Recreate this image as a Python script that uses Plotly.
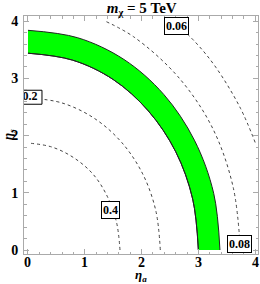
import plotly.graph_objects as go

# ---- data ----
# contour lines (eta_a, eta_s)
c040_x = [1.62, 1.56, 1.40, 1.15, 0.81, 0.42, 0.0]
c040_y = [0.0, 0.48, 0.93, 1.32, 1.61, 1.80, 1.87]
c020_x = [2.33, 2.25, 2.02, 1.65, 1.17, 0.60, 0.0]
c020_y = [0.0, 0.69, 1.33, 1.88, 2.30, 2.57, 2.66]
c008_x = [3.74, 3.61, 3.24, 2.64, 1.87, 1.36]
c008_y = [0.0, 1.11, 2.15, 3.03, 3.72, 4.0]
c006_x = [4.0, 3.74, 3.31, 2.95, 2.56]
c006_y = [1.88, 2.48, 3.19, 3.63, 4.0]

# green allowed band: outer and inner edges
band_out_x = [3.38, 3.27, 2.93, 2.39, 1.69, 0.875, 0.0]
band_out_y = [0.0, 0.99, 1.92, 2.72, 3.33, 3.71, 3.84]
band_in_x = [3.00, 2.90, 2.60, 2.12, 1.50, 0.78, 0.0]
band_in_y = [0.0, 0.89, 1.72, 2.43, 2.98, 3.32, 3.44]

# contour labels
label_text = ["0.06", "0.4", "0.08"]
label_x = [2.62, 1.46, 3.72]
label_y = [3.92, 0.70, 0.10]
edge_label_text = "0.2"
edge_label_x = 0.0
edge_label_y = 2.67

tick_vals = [0, 1, 2, 3, 4]
tick_text = ["0", "1", "2", "3", "4"]

serif = "Liberation Serif, Times New Roman, serif"
dash_style = dict(color="#444444", width=1, dash="3px,3px")

fig = go.Figure()

# band: inner edge, then outer edge filled to the inner one
fig.add_trace(go.Scatter(x=band_in_x, y=band_in_y, mode="lines",
                         line=dict(color="#222222", width=1, shape="spline"),
                         hoverinfo="skip", showlegend=False))
fig.add_trace(go.Scatter(x=band_out_x, y=band_out_y, mode="lines",
                         fill="tonexty", fillcolor="#00ff00",
                         line=dict(color="#222222", width=1, shape="spline"),
                         hoverinfo="skip", showlegend=False))
fig.add_trace(go.Scatter(x=band_in_x, y=band_in_y, mode="lines",
                         line=dict(color="#222222", width=1, shape="spline"),
                         hoverinfo="skip", showlegend=False))
# dashed contours
for cx, cy in [(c040_x, c040_y), (c020_x, c020_y), (c008_x, c008_y), (c006_x, c006_y)]:
    fig.add_trace(go.Scatter(x=cx, y=cy, mode="lines",
                             line=dict(shape="spline", **dash_style),
                             hoverinfo="skip", showlegend=False))

# edge label (clipped by frame) : box + text as traces
px_x = 4.12 / 234
px_y = 4.16 / 238
bx0 = edge_label_x - 14 * px_x
bx1 = edge_label_x + 14 * px_x
by0 = edge_label_y - 7 * px_y
by1 = edge_label_y + 7 * px_y
fig.add_trace(go.Scatter(x=[bx0, bx1, bx1, bx0, bx0], y=[by0, by0, by1, by1, by0],
                         mode="lines", fill="toself", fillcolor="white",
                         line=dict(color="black", width=1),
                         hoverinfo="skip", showlegend=False))
fig.add_trace(go.Scatter(x=[edge_label_x + 2 * px_x], y=[edge_label_y], mode="text",
                         text=[edge_label_text], cliponaxis=True,
                         textfont=dict(family=serif, size=12, color="black", weight="bold"),
                         hoverinfo="skip", showlegend=False))

for t, lx, ly in zip(label_text, label_x, label_y):
    fig.add_annotation(x=lx, y=ly, xref="x", yref="y", text="<b>%s</b>" % t,
                       showarrow=False, bgcolor="white", bordercolor="black",
                       borderwidth=1, borderpad=1,
                       font=dict(family=serif, size=12, color="black"))

axis_common = dict(
    showgrid=False, zeroline=False, showline=True, linecolor="#aaaaaa", linewidth=1,
    mirror="allticks", ticks="inside", ticklen=5, tickcolor="#aaaaaa", tickwidth=1,
    tickvals=tick_vals,
    minor=dict(ticks="inside", ticklen=2.5, tickcolor="#aaaaaa", dtick=0.2, tick0=0, showgrid=False),
)
fig.update_xaxes(range=[-0.07, 4.05], showticklabels=False, **axis_common)
fig.update_yaxes(range=[-0.07, 4.09], ticklabelstandoff=2,
                 ticktext=["<b>%s</b>" % t for t in tick_text],
                 tickfont=dict(family=serif, size=14, color="black"), **axis_common)

# x tick labels placed just under the frame
for v, t in zip(tick_vals, tick_text):
    fig.add_annotation(x=v, xref="x", yref="paper", y=-(262 - 254) / 238, yanchor="middle",
                       text="<b>%s</b>" % t, showarrow=False,
                       font=dict(family=serif, size=14, color="black"))

fig.add_annotation(xref="paper", yref="paper", x=0.5, y=-(275 - 254) / 238, yanchor="middle",
                   text="<b><i>η</i><sub><i>a</i></sub></b>", showarrow=False,
                   font=dict(family=serif, size=13, color="black"))
fig.add_annotation(xref="paper", yref="paper", x=-16 / 234, y=0.5, xanchor="center",
                   textangle=-90, text="<b><i>η</i><sub><i>s</i></sub></b>", showarrow=False,
                   font=dict(family=serif, size=13, color="black"))

fig.update_layout(
    width=260, height=284,
    margin=dict(l=24, r=2, t=16, b=30),
    paper_bgcolor="white", plot_bgcolor="white",
    title=dict(text="<b><i>m</i><sub>χ</sub> = 5 TeV</b>", x=0.545, xanchor="center",
               y=1 - 8 / 284, yanchor="middle", yref="container",
               font=dict(family=serif, size=15, color="black")),
    showlegend=False,
)

fig.write_html("out.html", config={"displayModeBar": False},
               post_script="document.body.style.margin='0';document.body.style.padding='0';")
